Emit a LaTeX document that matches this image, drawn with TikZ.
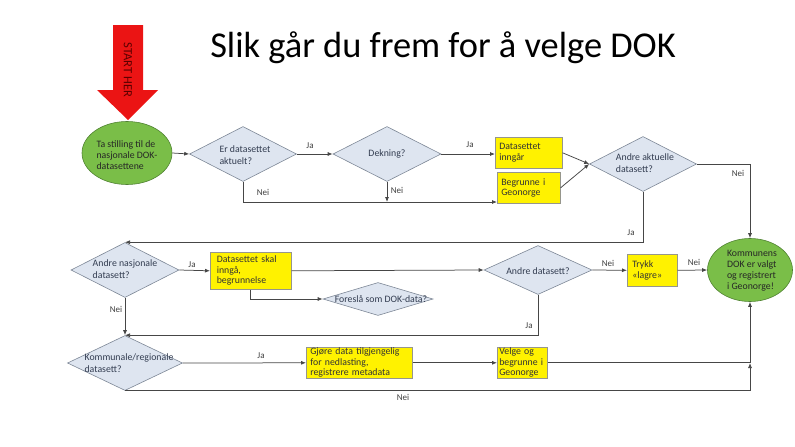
\documentclass[tikz,border=0pt]{standalone}
\usepackage{fontspec}
\setmainfont{Carlito}
\usetikzlibrary{shapes.geometric,arrows.meta}
\definecolor{dfill}{RGB}{222,229,240}
\definecolor{dbord}{RGB}{125,135,150}
\definecolor{dtext}{RGB}{50,60,80}
\definecolor{ybord}{RGB}{150,150,140}
\definecolor{gfill}{RGB}{122,190,72}
\definecolor{gbord}{RGB}{80,130,50}
\definecolor{lcol}{RGB}{70,70,70}
\definecolor{redarrow}{RGB}{235,20,20}
\begin{document}
\begin{tikzpicture}[x=1pt,y=-1pt,
  dia/.style={diamond,draw=dbord,fill=dfill,line width=0.6pt,inner sep=0pt,aspect=2},
  dtxt/.style={font=\fontsize{9.8}{11.5}\selectfont,text=dtext,align=left,inner sep=0pt},
  ybox/.style={rectangle,draw=ybord,fill=yellow,line width=0.6pt,font=\fontsize{9.8}{10.6}\selectfont,text=black!80,align=left,inner xsep=4pt,inner ysep=0pt,anchor=north west},
  ell/.style={ellipse,draw=gbord,fill=gfill,line width=0.6pt,inner sep=0pt},
  etxt/.style={font=\fontsize{9.8}{11}\selectfont,text=black!85,align=left,inner sep=0pt},
  conn/.style={draw=lcol,line width=0.75pt},
  arr/.style={conn,-{Latex[length=5pt,width=4pt]}},
  lbl/.style={font=\fontsize{9}{10}\selectfont,text=black!75,inner sep=0pt}]
\useasboundingbox (0,0) rectangle (795,447);

% title
\node[font=\fontsize{36.4}{42}\selectfont,inner sep=0pt] (title) at (443,48) {Slik går du frem for å velge DOK};

% red start arrow
\fill[redarrow] (113,25) -- (143,25) -- (143,90) -- (158,90) -- (128,120) -- (97,90) -- (113,90) -- cycle;
\node[rotate=-90,font=\fontsize{12.5}{14}\selectfont,text={rgb,255:red,90;green,0;blue,0},inner sep=0pt] (start) at (128,70) {START HER};

% start ellipse
\node[ell,minimum width=90pt,minimum height=63pt] (e1) at (127,153) {};
\node[etxt] (e1t) at (127,155) {Ta stilling til de\\nasjonale DOK-\\datasettene};

% row 1
\node[dia,minimum width=107pt,minimum height=55pt] (d1) at (243,154) {};
\node[dtxt] (d1t) at (245,155) {Er datasettet\\aktuelt?};
\node[dia,minimum width=108pt,minimum height=55pt] (d2) at (387,154) {};
\node[dtxt] (d2t) at (387,154) {Dekning?};
\node[ybox,minimum width=67pt,minimum height=31pt,text width=59pt] (b1) at (495,137) {Datasettet\\inngår};
\node[ybox,minimum width=63pt,minimum height=31pt,text width=55pt] (b2) at (497,172) {Begrunne i\\Geonorge};
\node[dia,minimum width=107pt,minimum height=55pt] (d3) at (643,164) {};
\node[dtxt] (d3t) at (645,163) {Andre aktuelle\\datasett?};

% end ellipse
\node[ell,minimum width=85pt,minimum height=63pt] (e2) at (750,270) {};
\node[etxt] (e2t) at (752,271) {Kommunens\\DOK er valgt\\og registrert\\i Geonorge!};

% row 2
\node[dia,minimum width=108pt,minimum height=55pt] (d4) at (125,270) {};
\node[dtxt] (d4t) at (125,269) {Andre nasjonale\\datasett?};
\node[ybox,minimum width=81pt,minimum height=37pt,text width=68pt,inner xsep=6.5pt] (b3) at (210,252) {Datasettet skal\\inngå,\\begrunnelse};
\node[dia,minimum width=108pt,minimum height=49pt] (d5) at (538,270) {};
\node[dtxt] (d5t) at (538,271) {Andre datasett?};
\node[dia,minimum width=110pt,minimum height=33pt] (d7) at (378,299) {};
\node[dtxt] (d7t) at (381,299) {Foreslå som DOK-data?};
\node[ybox,minimum width=50pt,minimum height=32pt,text width=40pt,inner xsep=5pt] (bt) at (627,254) {Trykk\\«lagre»};

% row 3
\node[dia,minimum width=115pt,minimum height=55pt] (d6) at (125,363) {};
\node[dtxt] (d6t) at (129,363) {Kommunale/regionale\\datasett?};
\node[ybox,minimum width=106pt,minimum height=31pt,text width=98pt] (b4) at (306,347) {Gjøre data tilgjengelig\\for nedlasting,\\registrere metadata};
\node[ybox,minimum width=50pt,minimum height=31pt,text width=46pt,inner xsep=2pt] (b5) at (497,347) {Velge og\\begrunne i\\Geonorge};

% connectors
\draw[arr] (e1.east) -- (d1.west);
\draw[arr] (d1.east) -- (d2.west);
\node[lbl] (l1) at (310,146) {Ja};
\draw[arr] (d2.east) -- (b1.west |- d2.east);
\node[lbl] (l2) at (470,145) {Ja};
\coordinate (b2in) at (497,202);
\draw[arr] (d1.south) |- (b2in);
\node[lbl] (l3) at (263,192) {Nei};
\draw[arr] (d2.south) -- (d2.south |- b2in);
\node[lbl] (l4) at (397,190) {Nei};
\draw[arr] (b1.east) -- (d3.west);
\draw[arr] (b2.east) -- (d3.west);
\draw[arr] (d3.east) -| (e2.north);
\node[lbl] (l5) at (738,173) {Nei};
\draw[arr] (d3.south) |- (d4.north);
\node[lbl] (l6) at (631,233) {Ja};

\draw[arr] (d4.east) -- (b3.west);
\node[lbl] (l7) at (192,265) {Ja};
\draw[arr] (b3.east) -- (d5.west);
\draw[arr] (b3.south) |- (d7.west);
\draw[arr] (d5.east) -- (bt.west);
\node[lbl] (l8) at (608,263) {Nei};
\draw[arr] (bt.east) -- (e2.west);
\node[lbl] (l9) at (694,262) {Nei};
\draw[arr] (d5.south) |- (d6.north);
\node[lbl] (l10) at (529,326) {Ja};
\draw[arr] (d4.south) -- (d6.north);
\node[lbl] (l11) at (116,309) {Nei};

\draw[arr] (d6.east) -- (b4.west);
\node[lbl] (l12) at (261,356) {Ja};
\draw[arr] (b4.east) -- (b5.west);
\draw[arr] (b5.east) -| (e2.south);
\coordinate (jn) at (750,363);
\draw[arr] (d6.south) -| (jn);
\node[lbl] (l13) at (403,397) {Nei};
\end{tikzpicture}
\end{document}
